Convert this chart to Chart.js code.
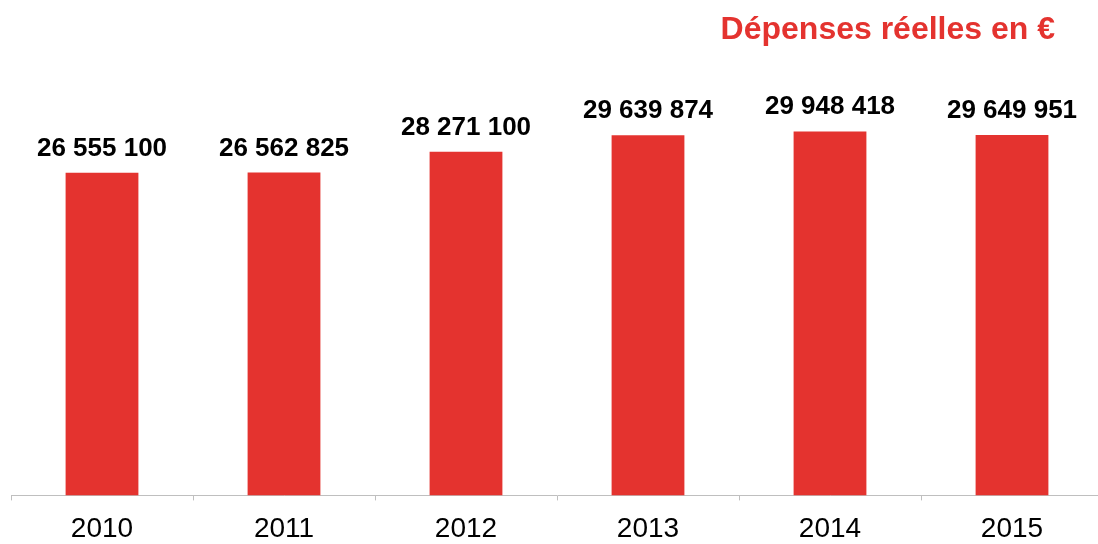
<!DOCTYPE html>
<html lang="fr">
<head>
<meta charset="utf-8">
<title>Dépenses réelles</title>
<script src="https://cdn.jsdelivr.net/npm/chart.js@4/dist/chart.umd.min.js"></script>
<style>
  html, body { margin: 0; padding: 0; background: #fff; overflow: hidden; }
  #frame { width: 1098px; height: 544px; overflow: hidden; position: relative; }
  canvas { display: block; position: absolute; left: 0; top: 0; }
</style>
</head>
<body>
<div id="frame"><canvas id="depChart" width="1104" height="565"></canvas></div>
<script>
const years = ['2010', '2011', '2012', '2013', '2014', '2015'];
const depenses = [26555100, 26562825, 28271100, 29639874, 29948418, 29649951];
const chartTitle = 'Dépenses réelles en €';

const RED = '#e4332f';
const FONT = '"Liberation Sans", Arial, sans-serif';

// French style thousands: 26 555 100
function formatFr(v) {
  return String(v).replace(/\B(?=(\d{3})+(?!\d))/g, ' ');
}

// Bold value above each bar
const valueLabels = {
  id: 'valueLabels',
  afterDatasetsDraw(chart) {
    const ctx = chart.ctx;
    const meta = chart.getDatasetMeta(0);
    ctx.save();
    ctx.font = 'bold 26px ' + FONT;
    ctx.fillStyle = '#000';
    ctx.textAlign = 'center';
    ctx.textBaseline = 'alphabetic';
    meta.data.forEach((bar, i) => {
      ctx.fillText(formatFr(depenses[i]), bar.x, bar.y - 17);
    });
    ctx.restore();
  }
};

// Red title in the top right corner
const cornerTitle = {
  id: 'cornerTitle',
  afterDraw(chart) {
    const ctx = chart.ctx;
    ctx.save();
    ctx.font = 'bold 32px ' + FONT;
    ctx.fillStyle = RED;
    ctx.textAlign = 'right';
    ctx.textBaseline = 'alphabetic';
    ctx.fillText(chartTitle, 1055, 39);
    ctx.restore();
  }
};

new Chart(document.getElementById('depChart'), {
  type: 'bar',
  data: {
    labels: years,
    datasets: [{
      data: depenses,
      backgroundColor: RED,
      barPercentage: 0.4,
      categoryPercentage: 1
    }]
  },
  options: {
    responsive: false,
    animation: false,
    layout: { padding: { top: 70, left: 11, right: 1, bottom: 7 } },
    plugins: {
      legend: { display: false },
      tooltip: { enabled: false }
    },
    scales: {
      y: {
        display: false,
        min: 0,
        max: 35000000
      },
      x: {
        grid: {
          drawOnChartArea: false,
          drawTicks: true,
          tickLength: 5,
          color: '#bfbfbf'
        },
        border: { color: '#bfbfbf', width: 1 },
        ticks: {
          color: '#000',
          padding: 12,
          font: { family: FONT, size: 28 }
        }
      }
    }
  },
  plugins: [valueLabels, cornerTitle]
});
</script>
</body>
</html>
